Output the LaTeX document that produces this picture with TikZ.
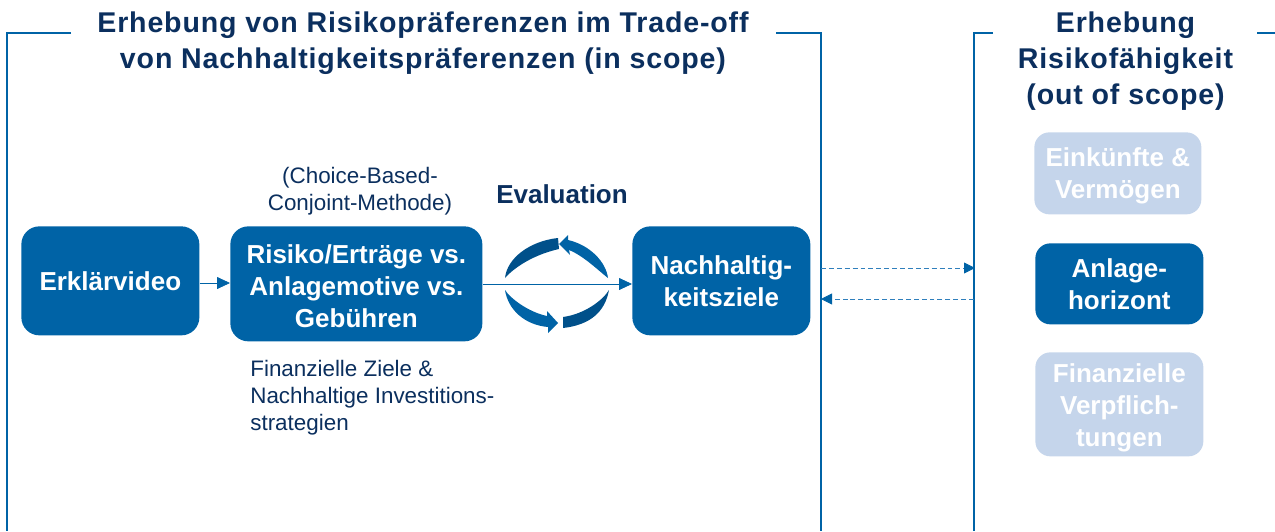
\documentclass[tikz,border=0pt]{standalone}
\usepackage{fontspec}
\setmainfont{Liberation Sans}
\usepackage{tikz}
\usetikzlibrary{arrows.meta}
\definecolor{boxblue}{HTML}{0063A6}
\definecolor{boxlight}{HTML}{C5D5EB}
\definecolor{titleblue}{HTML}{0B2F5E}
\definecolor{arcdark}{HTML}{00508A}
\definecolor{dashblue}{HTML}{2F7FBC}
\newfontfamily\titlefont[LetterSpace=3]{Liberation Sans}
\newcommand{\pushdown}[1]{\rule{0pt}{#1}}

\begin{document}
\begin{tikzpicture}[
x=0.02cm, y=-0.02cm,
box/.style={rectangle, rounded corners=3.6mm, fill=boxblue, text=white, font=\bfseries\fontsize{14.8}{18.2}\selectfont, align=center, anchor=north west, inner sep=0pt},
lightbox/.style={box, rounded corners=3mm, fill=boxlight},
darkbox/.style={box, rounded corners=3mm},
heading/.style={text=titleblue, font=\titlefont\bfseries\fontsize{16.25}{20.4}\selectfont, align=center, inner sep=0pt},
note/.style={text=titleblue, font=\fontsize{12.75}{15.4}\selectfont, inner sep=0pt},
frame/.style={draw=boxblue, line width=0.85pt},
link/.style={draw=boxblue, line width=0.45pt, -{Triangle[length=2.6mm,width=2.4mm]}},
dashlink/.style={draw=dashblue, line width=0.45pt, dash pattern=on 2.8pt off 1.7pt, -{Triangle[length=2.2mm,width=2.2mm,color=boxblue]}},
]
\useasboundingbox (0,0) rectangle (1275,531);

% frames
\draw[frame] (71,33) -- (7,33) -- (7,531);
\draw[frame] (776,33) -- (821,33) -- (821,531);
\draw[frame] (993,33) -- (974,33) -- (974,531);
\draw[frame] (1257,33) -- (1275,33);

% headings
\node[heading] (scopetitle) at (423,43) {Erhebung von Risikopräferenzen im Trade-off\\von Nachhaltigkeitspräferenzen (in scope)};
\node[heading] (outtitle) at (1125.5,61) {Erhebung\\Risikofähigkeit\\(out of scope)};

% main boxes
\node[box, minimum width=178*0.02cm, minimum height=109*0.02cm] (video) at (21,226) {Erklärvideo};
\node[box, minimum width=252*0.02cm, minimum height=115*0.02cm] (risk) at (230,226) {\pushdown{13pt}Risiko/Erträge vs.\\Anlagemotive vs.\\Gebühren};
\node[box, minimum width=178*0.02cm, minimum height=109*0.02cm] (goals) at (632,226) {Nachhaltig-\\keitsziele};

% right column
\node[lightbox, minimum width=167*0.02cm, minimum height=82*0.02cm] (income) at (1034,132) {\pushdown{13.5pt}Einkünfte \&\\Vermögen};
\node[darkbox, minimum width=168*0.02cm, minimum height=81*0.02cm] (horizon) at (1035,243) {Anlage-\\horizont};
\node[lightbox, minimum width=168*0.02cm, minimum height=104*0.02cm] (duties) at (1035,352) {\pushdown{14.4pt}Finanzielle\\Verpflich-\\tungen};

% notes
\node[note, align=center] (conjoint) at (360,191) {(Choice-Based-\\Conjoint-Methode)};
\node[note, align=left, anchor=north west] (aims) at (250,360) {Finanzielle Ziele \&\\Nachhaltige Investitions-\\strategien};
\node[text=titleblue, font=\bfseries\fontsize{14.8}{18}\selectfont, inner sep=0pt] (evaluation) at (562,194) {Evaluation};

% circular arrows
\fill[arcdark] (505,278) .. controls (507,258) and (530,241) .. (558,238) -- (559,249) .. controls (528,256) and (510,272) .. cycle;
\fill[boxblue] (608,278) .. controls (606,262) and (590,245) .. (568,240) -- (568,235) -- (559,244) -- (570,255) -- (569,250) .. controls (584,256) and (600,272) .. cycle;
\fill[boxblue] (505,290) .. controls (508,310) and (525,325) .. (548,327) -- (548,333) -- (558,323) -- (547,311) -- (547,316) .. controls (528,312) and (510,298) .. cycle;
\fill[arcdark] (609,290) .. controls (605,312) and (590,325) .. (563,328) -- (563,317) .. controls (585,314) and (603,300) .. cycle;

% connectors
\draw[link] (video.east |- 0,283) -- (risk.west |- 0,283);
\draw[link] (risk.east |- 0,284) -- (goals.west |- 0,284);
\coordinate (leftedge1) at (821,268);
\coordinate (rightedge1) at (975,268);
\coordinate (leftedge2) at (821,299);
\coordinate (rightedge2) at (974,299);
\draw[dashlink] (leftedge1) -- (rightedge1);
\draw[dashlink] (rightedge2) -- (leftedge2);
\end{tikzpicture}
\end{document}
